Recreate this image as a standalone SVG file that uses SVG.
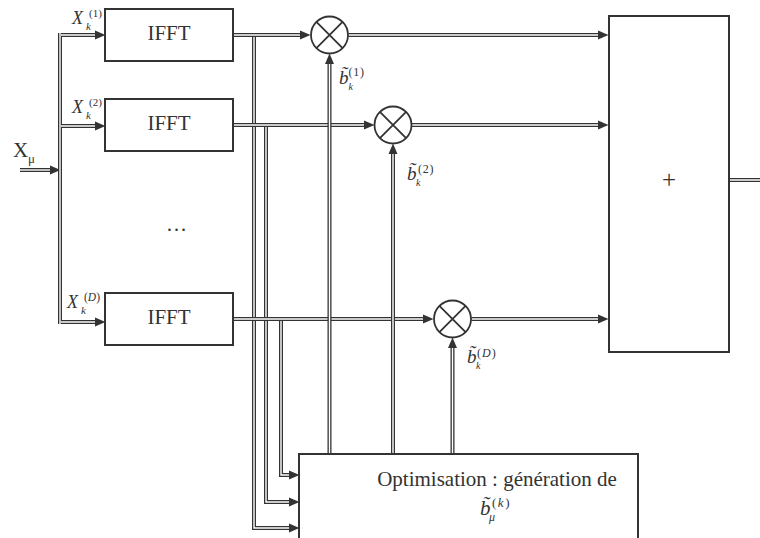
<svg xmlns="http://www.w3.org/2000/svg" width="760" height="538" viewBox="0 0 760 538">
<style>
.box{fill:#fff;stroke:#333;stroke-width:2}
.circ{fill:#fff;stroke:#333;stroke-width:1.8}
.x{stroke:#333;stroke-width:1.8;fill:none}
.o{fill:none;stroke:#333;stroke-width:4}
.oa{fill:none;stroke:#333;stroke-width:4;marker-end:url(#ah)}
.i{fill:none;stroke:#fff;stroke-width:1.4}
text{font-family:"Liberation Serif","Times New Roman",serif;fill:#333}
.t{font-size:21px}
.it{font-style:italic}
</style>
<defs>
<marker id="ah" markerUnits="userSpaceOnUse" markerWidth="11" markerHeight="10" refX="0" refY="4.5" orient="auto" viewBox="0 0 11 9">
<path d="M0,0 L10.5,4.5 L0,9 z" fill="#333"/>
</marker>
</defs>
<g id="connectors">
<path class="oa" d="M20,170 H50"/><path class="i" d="M20,170 H50"/>
<path class="o" d="M60,33 V324"/><path class="i" d="M60,33 V324"/>
<path class="oa" d="M62,35 H95"/><path class="i" d="M61,35 H95"/>
<path class="oa" d="M62,126 H95"/><path class="i" d="M61,126 H95"/>
<path class="oa" d="M62,322 H95"/><path class="i" d="M61,322 H95"/>
<path class="oa" d="M254,35 V528 H289"/><path class="i" d="M254,35 V528 H289"/>
<path class="oa" d="M266,125 V502 H289"/><path class="i" d="M266,125 V502 H289"/>
<path class="oa" d="M281,319 V475 H289"/><path class="i" d="M281,319 V475 H289"/>
<path class="oa" d="M233,35 H300"/><path class="i" d="M233,35 H300"/>
<path class="oa" d="M233,125 H364"/><path class="i" d="M233,125 H364"/>
<path class="oa" d="M233,319 H423"/><path class="i" d="M233,319 H423"/>
<path class="oa" d="M329.5,454 V64"/><path class="i" d="M329.5,454 V64"/>
<path class="oa" d="M393,454 V154"/><path class="i" d="M393,454 V154"/>
<path class="oa" d="M452.5,454 V348"/><path class="i" d="M452.5,454 V348"/>
<path class="oa" d="M348.5,35 H598"/><path class="i" d="M348.5,35 H598"/>
<path class="oa" d="M412,125 H598"/><path class="i" d="M412,125 H598"/>
<path class="oa" d="M471.5,319 H598"/><path class="i" d="M471.5,319 H598"/>
<path class="o" d="M729,180 H762"/><path class="i" d="M729,180 H762"/>
</g>
<g id="input-label">
<text><tspan x="13" y="157" font-size="21">X</tspan><tspan x="28" y="163" font-size="13">μ</tspan></text>
</g>
<g id="ifft1">
<rect class="box" x="105" y="9" width="128" height="52"/>
<text class="t" x="169" y="40" text-anchor="middle">IFFT</text>
<text><tspan class="it" x="72" y="24" font-size="18">X</tspan><tspan class="it" x="86" y="30" font-size="11">k</tspan><tspan x="89" y="17" font-size="11">(1)</tspan></text>
</g>
<g id="ifft2">
<rect class="box" x="105" y="99" width="128" height="52"/>
<text class="t" x="169" y="130" text-anchor="middle">IFFT</text>
<text><tspan class="it" x="72" y="113" font-size="18">X</tspan><tspan class="it" x="86" y="119" font-size="11">k</tspan><tspan x="89" y="106" font-size="11">(2)</tspan></text>
</g>
<g id="dots">
<text class="t" x="166" y="231">…</text>
</g>
<g id="ifftD">
<rect class="box" x="105" y="293" width="128" height="52"/>
<text class="t" x="169" y="324" text-anchor="middle">IFFT</text>
<text><tspan class="it" x="67" y="308" font-size="18">X</tspan><tspan class="it" x="81" y="314" font-size="11">k</tspan><tspan x="84" y="301" font-size="11.5">(<tspan class="it">D</tspan>)</tspan></text>
</g>
<g id="mult1">
<circle class="circ" cx="329.5" cy="35" r="18.5"/>
<path class="x" d="M316.4,21.9 L342.6,48.1 M342.6,21.9 L316.4,48.1"/>
<text><tspan class="it" x="339" y="84" font-size="19">b̃</tspan><tspan class="it" x="348.5" y="90" font-size="10">k</tspan><tspan x="348.5" y="76" font-size="12" letter-spacing="0.8">(1)</tspan></text>
</g>
<g id="mult2">
<circle class="circ" cx="393" cy="125" r="18.5"/>
<path class="x" d="M379.9,111.9 L406.1,138.1 M406.1,111.9 L379.9,138.1"/>
<text><tspan class="it" x="407" y="180" font-size="19">b̃</tspan><tspan class="it" x="416" y="186" font-size="10">k</tspan><tspan x="418" y="173" font-size="12" letter-spacing="0.8">(2)</tspan></text>
</g>
<g id="multD">
<circle class="circ" cx="452.5" cy="319" r="18.5"/>
<path class="x" d="M439.4,305.9 L465.6,332.1 M465.6,305.9 L439.4,332.1"/>
<text><tspan class="it" x="467" y="363" font-size="19">b̃</tspan><tspan class="it" x="476" y="369" font-size="10">k</tspan><tspan x="477" y="357" font-size="12" letter-spacing="1">(<tspan class="it">D</tspan>)</tspan></text>
</g>
<g id="sum">
<rect class="box" x="609" y="16" width="120" height="336"/>
<text x="669" y="188" font-size="25" text-anchor="middle">+</text>
</g>
<g id="optimisation">
<rect class="box" x="299" y="454" width="339" height="100"/>
<text class="t" x="497" y="486" text-anchor="middle">Optimisation : génération de</text>
<text><tspan class="it" x="480" y="515" font-size="21">b̃</tspan><tspan class="it" x="489" y="521" font-size="12">μ</tspan><tspan x="492" y="507" font-size="13" letter-spacing="1.5">(<tspan class="it">k</tspan>)</tspan></text>
</g>
</svg>
